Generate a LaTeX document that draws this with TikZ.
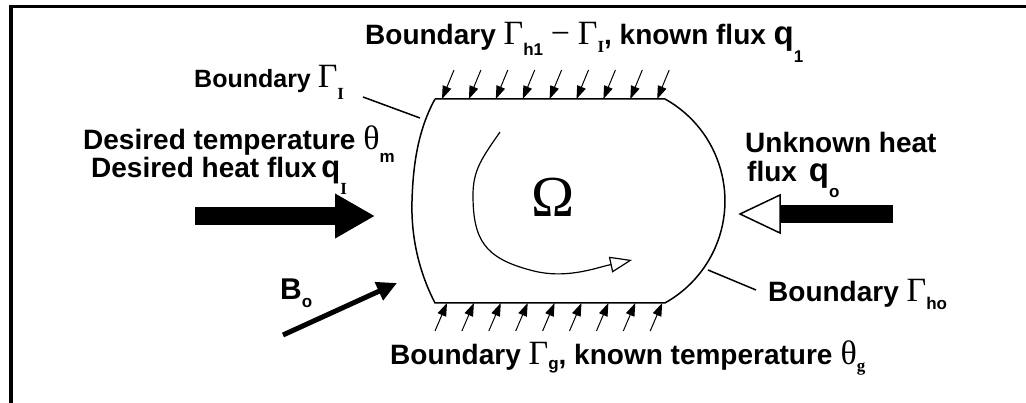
\documentclass[tikz,border=0pt]{standalone}
\usepackage{fontspec}
\setmainfont{Liberation Sans}
\newfontfamily\serf{Liberation Serif}
\usetikzlibrary{arrows.meta}
\newcommand\gr[1]{{\serf\mdseries\fontsize{34}{34}\selectfont #1}}
\newcommand\lowsub[2][9pt]{\raisebox{-#1}{\fontsize{17}{17}\selectfont #2}}
\newcommand\bigq[1][33]{\smash{\fontsize{#1}{#1}\selectfont q}}

\begin{document}
\begin{tikzpicture}[x=1pt, y=-1pt,
  lbl/.style={anchor=base west, inner sep=0pt, font=\bfseries\fontsize{28}{30}\selectfont},
  wall/.style={line width=1.5pt},
  inflow/.style={line width=1pt, -{Triangle[length=13pt,width=9pt]}}
]
  \useasboundingbox (0,0) rectangle (1026,403);
  \draw[line width=3.4pt] (11,403) -- (11,6.5) -- (1026,6.5);

  % domain Omega
  \draw[wall] (435,99) -- (665,99) arc[start angle=-60.9, end angle=60.9, radius=116.7]
    -- (435,303) .. controls (418,270) and (411,235) .. (412,201)
    .. controls (413,165) and (418,130) .. (435,99);
  \node[font=\serf\fontsize{58}{58}\selectfont] (om) at (553,197) {Ω};
  \draw[line width=1.2pt, -{Triangle[length=22pt,width=16pt,fill=white]}]
    (500,132) .. controls (482,158) and (473,170) .. (473,195)
    .. controls (473,240) and (485,258) .. (530,270)
    .. controls (565,280) and (595,268) .. (632,260);

  % fluxes on top and bottom walls
  \foreach \i in {0,...,8}
    \draw[inflow] ({454+26.9*\i},70) -- ++(-12,29);
  \foreach \i in {0,...,8}
    \draw[inflow] ({435+26.9*\i},331) -- ++(12,-28);

  % heat flux arrows
  \draw[line width=18pt, -{Triangle[length=40pt,width=42pt]}] (195,216) -- (375,216);
  \fill (780,205) rectangle (893,223);
  \draw[line width=1.5pt, fill=white] (740,214) -- (780,195) -- (780,233) -- cycle;
  \draw[line width=5pt, -{Triangle[length=20pt,width=19pt]}] (283,335) -- (397,283);

  % labels
  \node[lbl, font=\bfseries\fontsize{25}{28}\selectfont] (bI) at (194,88)
    {Boundary \gr{Γ}\lowsub[12pt]{\serf I}};
  \node[lbl] (top) at (365,45)
    {Boundary \gr{Γ}\lowsub[11pt]{h1} \gr{−} \gr{Γ}\lowsub[8pt]{\serf I}, known flux \bigq\lowsub[18pt]{1}};
  \node[lbl] (dt) at (83,150) {Desired temperature \gr{θ}\lowsub[13pt]{m}};
  \node[lbl] (dq) at (91,178) {Desired heat flux\,\bigq[31]\lowsub[17pt]{\serf I}};
  \node[lbl] (uh) at (745,153) {Unknown heat};
  \node[lbl] (uq) at (747,182) {flux\hspace{12pt}\bigq\lowsub[16pt]{o}};
  \node[lbl] (bho) at (768,302) {Boundary \gr{Γ}\lowsub[8pt]{ho}};
  \node[lbl] (bg) at (390,365)
    {Boundary \gr{Γ}\lowsub[5pt]{g}, known temperature\hspace{8pt}\gr{θ}\lowsub[7pt]{\serf g}};
  \node[lbl, font=\bfseries\fontsize{30}{32}\selectfont] (bo) at (280,300) {B\lowsub[8pt]{o}};

  % leader lines
  \coordinate (wI) at (420,118);
  \coordinate (who) at (708,270);
  \draw[wall] (363,97) -- (wI);
  \draw[wall] (who) -- (756,290) coordinate (lho);
\end{tikzpicture}
\end{document}
